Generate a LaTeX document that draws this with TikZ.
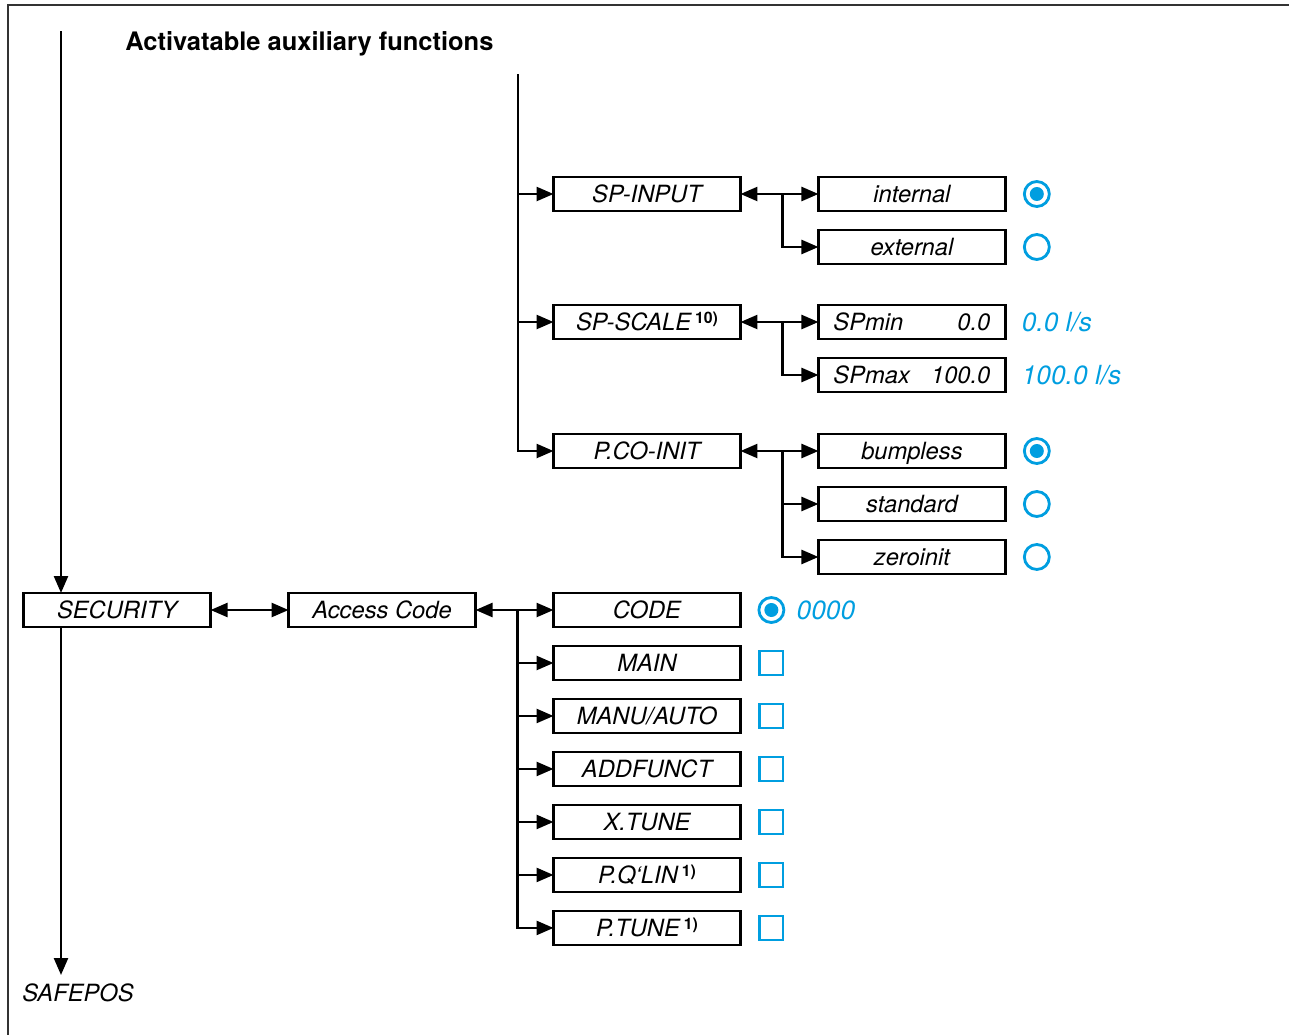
\documentclass[tikz,border=0pt]{standalone}
\usepackage{fontspec}
\setmainfont{TeX Gyre Heros}
\usetikzlibrary{arrows.meta,positioning,calc}
\definecolor{selblue}{RGB}{0,158,224}
\newcommand{\fnote}[1]{\raisebox{0.55ex}{\fontsize{9}{10}\selectfont\upshape\bfseries #1}}

\begin{document}
\begin{tikzpicture}[x=0.02cm,y=-0.02cm,node distance=0.38cm and 1.56cm,>={Triangle[length=0.34cm,width=0.28cm]}]
\tikzset{b/.style={draw,line width=1.6pt,minimum width=3.74cm,minimum height=0.68cm,inner sep=0pt,outer sep=0pt,text height=9.9pt,text depth=0.3pt,font=\fontsize{13.5}{15}\selectfont\itshape},
  bv/.style={b,inner xsep=0.3cm,text width=3.14cm,align=left},
  ln/.style={line width=1.4pt},
  radio/.style={circle,draw=selblue,line width=1.6pt,minimum size=0.5cm,inner sep=0pt,right=0.35cm of #1},
  radioon/.style={radio=#1,path picture={\fill[selblue] (path picture bounding box.center) circle (0.14cm);}},
  chk/.style={draw=selblue,line width=1.2pt,minimum size=0.47cm,inner sep=0pt,right=0.36cm of #1},
  val/.style={text=selblue,font=\fontsize{15}{17}\selectfont\itshape,inner sep=0pt,anchor=west}}
\useasboundingbox (0,0) rectangle (1289,1035);
\draw[line width=0.9pt,black!80] (8,1035) -- (8,5) -- (1289,5);
\node[anchor=west,inner sep=0pt,font=\fontsize{14.5}{17}\selectfont\bfseries] (title) at (125,44) {Activatable auxiliary functions};

% auxiliary functions
\node[b] (spin) at (647,194) {SP-INPUT};
\node[b,right=of spin] (int) {internal};
\node[b,below=of int] (ext) {external};
\node[b] (spsc) at (647,322) {SP-SCALE\,\fnote{10)}};
\node[bv,right=of spsc] (spmin) {SPmin\hfill 0.0};
\node[bv,below=of spmin] (spmax) {SPmax\hfill 100.0};
\node[b] (pco) at (647,451) {P.CO-INIT};
\node[b,right=of pco] (bump) {bumpless};
\node[b,below=of bump] (std) {standard};
\node[b,below=of std] (zero) {zeroinit};

\node[radioon=int] (r1) {};
\node[radio=ext] (r2) {};
\node[radioon=bump] (r3) {};
\node[radio=std] (r4) {};
\node[radio=zero] (r5) {};
\node[val,right=0.32cm of spmin] (vmin) {0.0 l/s};
\node[val,right=0.32cm of spmax] (vmax) {100.0 l/s};

\coordinate (top) at (518,74);
\foreach \n in {spin,spsc,pco} \draw[ln,->] (top) |- (\n);
\draw[ln,<->] (spin) -- (int);
\draw[ln,<->] (spsc) -- (spmin);
\draw[ln,<->] (pco) -- (bump);
\coordinate (j1) at ($(spin.east)!0.54!(int.west)$);
\coordinate (j2) at ($(spsc.east)!0.54!(spmin.west)$);
\coordinate (j3) at ($(pco.east)!0.54!(bump.west)$);
\draw[ln,->] (j1) |- (ext);
\draw[ln,->] (j2) |- (spmax);
\foreach \n in {std,zero} \draw[ln,->] (j3) |- (\n);

% security
\node[b] (code) at (647,610) {CODE};
\node[b,left=of code] (acc) {Access Code};
\node[b,left=of acc] (sec) {SECURITY};
\node[b,below=of code] (main) {MAIN};
\node[b,below=of main] (manu) {MANU/AUTO};
\node[b,below=of manu] (addf) {ADDFUNCT};
\node[b,below=of addf] (xt) {X.TUNE};
\node[b,below=of xt] (pq) {P.Q‘LIN\,\fnote{1)}};
\node[b,below=of pq] (pt) {P.TUNE\,\fnote{1)}};

\node[radioon=code,right=0.34cm of code] (r6) {};
\node[val,right=0.22cm of r6] (vcode) {0000};
\foreach \n in {main,manu,addf,xt,pq,pt} \node[chk=\n] (c\n) {};

\draw[ln,<->] (sec) -- (acc);
\draw[ln,<->] (acc) -- (code);
\coordinate (j4) at ($(acc.east)!0.54!(code.west)$);
\foreach \n in {main,manu,addf,xt,pq,pt} \draw[ln,->] (j4) |- (\n);

\coordinate (ltop) at (61,31);
\coordinate (lbot) at (61,975);
\node[anchor=west,inner sep=0pt,font=\fontsize{13.5}{15}\selectfont\itshape] (safe) at (22,993) {SAFEPOS};
\draw[ln,->] (ltop) -- (ltop |- sec.north);
\draw[ln,->] (ltop |- sec.south) -- (lbot);
\end{tikzpicture}
\end{document}
